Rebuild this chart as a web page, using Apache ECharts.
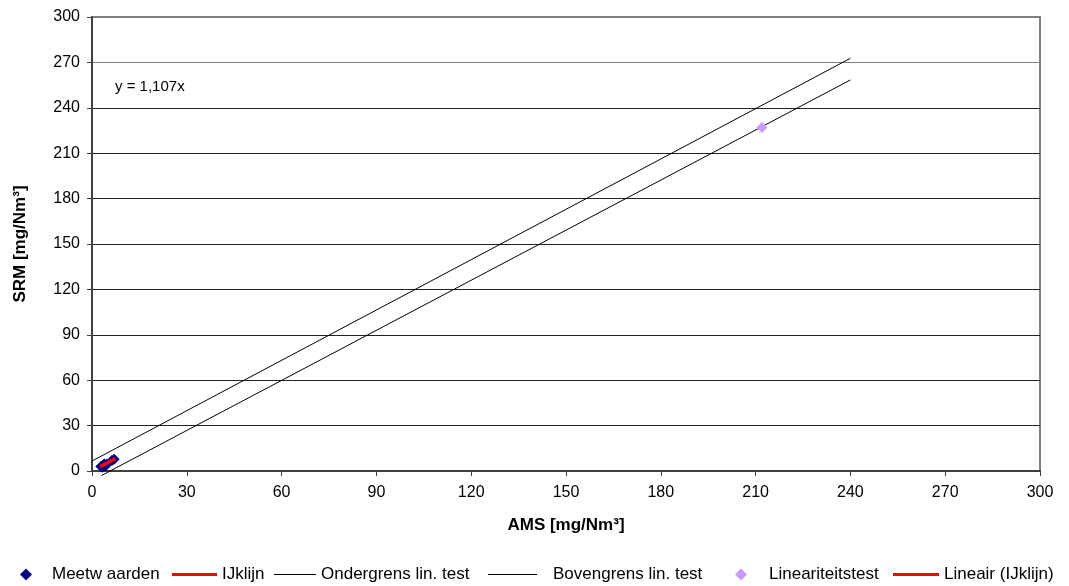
<!DOCTYPE html>
<html>
<head>
<meta charset="utf-8">
<script src="https://cdn.jsdelivr.net/npm/echarts@6/dist/echarts.min.js"></script>
<style>
  html, body { margin: 0; padding: 0; background: #fff; }
  #chart { width: 1069px; height: 586px; }
</style>
</head>
<body>
<div id="chart"></div>
<script>
// axis ticks
var xTicks = [0, 30, 60, 90, 120, 150, 180, 210, 240, 270, 300];
var yTicks = [0, 30, 60, 90, 120, 150, 180, 210, 240, 270, 300];

// measured values (AMS, SRM)
var meetwaarden = [[2.8, 3.0], [3.3, 2.4], [3.6, 3.9], [4.2, 3.2], [4.6, 4.4], [3.9, 4.7], [6.3, 7.0], [7.0, 7.8]];
// calibration line y = 1,107x over the measured range
var ijklijn = [[2.6, 2.9], [7.4, 8.2]];
var lineairIjklijn = [[2.6, 2.9], [7.4, 8.2]];
// linearity test limits
var ondergrens = [[3.0, -3.0], [240, 258.4]];
var bovengrens = [[0, 6.6], [240, 272.7]];
// linearity test point
var lineariteitstest = [[212, 227]];

var FONT = '"Liberation Sans", Arial, sans-serif';
var LEGEND_TOP = 566;

var chart = echarts.init(document.getElementById('chart'), null, { renderer: 'canvas' });

// one legend per entry so every icon and text sits where Excel put it
function legendItem(name, left, icon, w, h, textPad) {
  return {
    data: [{ name: name, icon: icon }],
    left: left,
    top: LEGEND_TOP,
    padding: 0,
    itemWidth: w,
    itemHeight: h,
    selectedMode: false,
    textStyle: { fontFamily: FONT, fontSize: 17, color: '#000', padding: [0, 0, 0, textPad] }
  };
}

// gridline colours, bottom to top (top two rendered grey in the original)
var gridColors = yTicks.map(function (v) { return v >= 270 ? '#808080' : '#222'; });

var option = {
  animation: false,
  backgroundColor: '#ffffff',
  textStyle: { fontFamily: FONT, color: '#000' },
  grid: {
    left: 92,
    right: 29,
    top: 17,
    bottom: 115,
    show: true,
    borderColor: '#808080',
    borderWidth: 2
  },
  xAxis: {
    type: 'value',
    min: 0,
    max: 300,
    interval: 30,
    name: 'AMS [mg/Nm³]',
    nameLocation: 'middle',
    nameGap: 46,
    nameTextStyle: { fontFamily: FONT, fontSize: 17, fontWeight: 'bold', color: '#000' },
    axisLine: { show: true, onZero: false, lineStyle: { color: '#404040', width: 2 } },
    axisTick: { show: true, inside: false, length: 5, lineStyle: { color: '#404040' } },
    axisLabel: { fontFamily: FONT, fontSize: 16, color: '#000', margin: 14 },
    splitLine: { show: false }
  },
  yAxis: {
    type: 'value',
    min: 0,
    max: 300,
    interval: 30,
    name: 'SRM [mg/Nm³]',
    nameLocation: 'middle',
    nameGap: 63,
    nameTextStyle: { fontFamily: FONT, fontSize: 17, fontWeight: 'bold', color: '#000' },
    axisLine: { show: true, onZero: false, lineStyle: { color: '#404040', width: 2 } },
    axisTick: { show: true, inside: false, length: 5, lineStyle: { color: '#404040' } },
    axisLabel: { fontFamily: FONT, fontSize: 16, color: '#000', margin: 12 },
    splitLine: { show: true, lineStyle: { color: gridColors, width: 1 } }
  },
  legend: [
    legendItem('Meetw aarden', 20, 'diamond', 12, 12, 15),
    legendItem('IJklijn', 172, 'rect', 45, 3, 0),
    legendItem('Ondergrens lin. test', 274, 'rect', 42, 1, 0),
    legendItem('Bovengrens lin. test', 488, 'rect', 49, 1, 11),
    legendItem('Lineariteitstest', 735, 'diamond', 12, 12, 17),
    legendItem('Lineair (IJklijn)', 893, 'rect', 46, 3, 0)
  ],
  graphic: [
    {
      type: 'text',
      left: 115,
      top: 79,
      style: { text: 'y = 1,107x', font: '15px ' + FONT, fill: '#000' }
    }
  ],
  series: [
    {
      name: 'Ondergrens lin. test',
      type: 'line',
      data: ondergrens,
      symbol: 'none',
      clip: false,
      lineStyle: { color: '#000', width: 1 },
      itemStyle: { color: '#000' },
      z: 3
    },
    {
      name: 'Bovengrens lin. test',
      type: 'line',
      data: bovengrens,
      symbol: 'none',
      clip: false,
      lineStyle: { color: '#000', width: 1 },
      itemStyle: { color: '#000' },
      z: 3
    },
    {
      name: 'Meetw aarden',
      type: 'scatter',
      data: meetwaarden,
      symbol: 'diamond',
      symbolSize: 11,
      itemStyle: { color: '#000080', opacity: 1 },
      z: 4
    },
    {
      name: 'Lineariteitstest',
      type: 'scatter',
      data: lineariteitstest,
      symbol: 'diamond',
      symbolSize: 11,
      itemStyle: { color: '#CC99FF', opacity: 1 },
      z: 4
    },
    {
      name: 'IJklijn',
      type: 'line',
      data: ijklijn,
      symbol: 'none',
      lineStyle: { color: '#FF0000', width: 3 },
      itemStyle: { color: '#FF0000' },
      z: 5
    },
    {
      name: 'Lineair (IJklijn)',
      type: 'line',
      data: lineairIjklijn,
      symbol: 'none',
      lineStyle: { color: '#FF0000', width: 3 },
      itemStyle: { color: '#FF0000' },
      z: 5
    }
  ]
};

chart.setOption(option);
</script>
</body>
</html>
